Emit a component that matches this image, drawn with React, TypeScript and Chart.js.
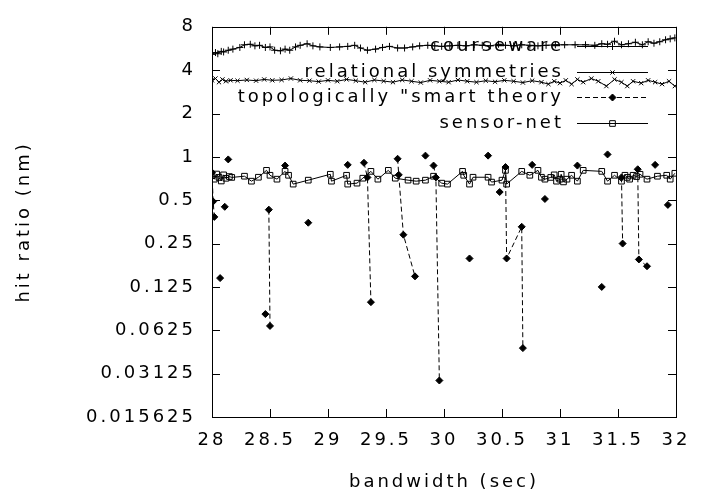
import React, { useEffect, useRef } from "react";
import { Chart, registerables } from "chart.js";
import { drawPoint } from "chart.js/helpers";

Chart.register(...registerables);

// ---------------- data ----------------
const xTickValues = [28, 28.5, 29, 29.5, 30, 30.5, 31, 31.5, 32];
const yTickValues = [0.015625, 0.03125, 0.0625, 0.125, 0.25, 0.5, 1, 2, 4, 8];
const yTickLabels = ["0.015625", "0.03125", "0.0625", "0.125", "0.25", "0.5", "1", "2", "4", "8"];

const seriesLabels = ["courseware", "relational symmetries", "topologically \"smart theory", "sensor-net"];

const coursewareX = [28.0, 28.03, 28.05, 28.08, 28.1, 28.14, 28.18, 28.24, 28.28, 28.33, 28.37, 28.41, 28.46, 28.5, 28.54, 28.59, 28.63, 28.67, 28.72, 28.76, 28.82, 28.87, 28.93, 29.02, 29.1, 29.17, 29.23, 29.28, 29.34, 29.41, 29.47, 29.53, 29.6, 29.66, 29.73, 29.79, 29.86, 29.92, 29.98, 30.05, 30.12, 30.19, 30.26, 30.33, 30.4, 30.47, 30.53, 30.6, 30.67, 30.74, 30.81, 30.88, 30.96, 31.04, 31.13, 31.22, 31.3, 31.36, 31.41, 31.47, 31.53, 31.59, 31.65, 31.71, 31.76, 31.81, 31.86, 31.91, 31.95, 31.99];
const coursewareY = [5.15, 5.3, 5.2, 5.4, 5.35, 5.5, 5.6, 5.75, 6.0, 6.05, 5.9, 5.95, 5.75, 5.8, 5.5, 5.45, 5.6, 5.5, 5.8, 5.95, 6.1, 5.9, 5.8, 5.75, 5.8, 5.85, 5.95, 5.7, 5.5, 5.6, 5.75, 5.85, 5.7, 5.7, 5.8, 5.9, 5.95, 5.9, 5.85, 5.9, 5.95, 5.9, 6.0, 5.95, 5.9, 6.05, 5.95, 5.9, 6.0, 5.95, 5.9, 5.95, 6.0, 6.0, 6.0, 6.0, 5.95, 6.1, 6.05, 6.35, 6.0, 6.1, 6.25, 6.0, 6.3, 6.15, 6.3, 6.5, 6.6, 6.7];

const relationalX = [28.0, 28.03, 28.06, 28.09, 28.12, 28.16, 28.22, 28.3, 28.38, 28.45, 28.52, 28.6, 28.68, 28.76, 28.84, 28.92, 29.0, 29.08, 29.16, 29.24, 29.32, 29.4, 29.48, 29.56, 29.64, 29.72, 29.8, 29.88, 29.96, 30.04, 30.12, 30.2, 30.28, 30.36, 30.44, 30.52, 30.6, 30.68, 30.76, 30.84, 30.9, 30.95, 31.0, 31.05, 31.1, 31.15, 31.2, 31.27, 31.33, 31.4, 31.47, 31.53, 31.58, 31.63, 31.7, 31.76, 31.82, 31.88, 31.94, 31.99];
const relationalY = [3.4, 3.5, 3.3, 3.45, 3.35, 3.4, 3.38, 3.42, 3.38, 3.45, 3.4, 3.42, 3.5, 3.4, 3.38, 3.33, 3.4, 3.35, 3.45, 3.38, 3.3, 3.42, 3.36, 3.3, 3.42, 3.35, 3.28, 3.4, 3.35, 3.3, 3.42, 3.35, 3.3, 3.38, 3.32, 3.4, 3.35, 3.28, 3.38, 3.3, 3.2, 3.35, 3.25, 3.4, 3.2, 3.45, 3.3, 3.5, 3.35, 3.1, 3.45, 3.3, 3.1, 3.35, 3.25, 3.4, 3.3, 3.2, 3.35, 3.1];

// null entries break the dashed line into separate pieces
const topologicalX = [28.0, 28.01, 28.02, null, 28.07, null, 28.11, null, 28.14, null, 28.46, null, 28.49, 28.5, null, 28.63, null, 28.83, null, 29.17, null, 29.31, 29.34, 29.37, null, 29.6, 29.61, 29.65, 29.75, null, 29.84, null, 29.91, 29.93, 29.96, null, 30.22, null, 30.38, null, 30.48, null, 30.53, 30.54, 30.67, 30.68, null, 30.76, null, 30.87, null, 31.15, null, 31.36, null, 31.41, null, 31.53, 31.54, null, 31.67, 31.68, 31.75, null, 31.82, null, 31.93];
const topologicalY = [0.78, 0.49, 0.383, null, 0.144, null, 0.45, null, 0.96, null, 0.081, null, 0.43, 0.067, null, 0.87, null, 0.349, null, 0.88, null, 0.91, 0.72, 0.098, null, 0.97, 0.75, 0.288, 0.148, null, 1.02, null, 0.87, 0.72, 0.028, null, 0.197, null, 1.02, null, 0.57, null, 0.85, 0.197, 0.327, 0.047, null, 0.88, null, 0.51, null, 0.87, null, 0.125, null, 1.04, null, 0.72, 0.25, null, 0.82, 0.194, 0.174, null, 0.88, null, 0.464];

const sensorX = [28.0, 28.02, 28.04, 28.06, 28.08, 28.1, 28.12, 28.15, 28.17, 28.28, 28.34, 28.4, 28.47, 28.5, 28.56, 28.63, 28.66, 28.7, 28.83, 29.02, 29.03, 29.16, 29.17, 29.25, 29.3, 29.37, 29.43, 29.52, 29.58, 29.69, 29.76, 29.84, 29.91, 29.98, 30.03, 30.16, 30.17, 30.22, 30.25, 30.38, 30.41, 30.5, 30.53, 30.54, 30.67, 30.74, 30.81, 30.84, 30.87, 30.92, 30.95, 30.97, 31.0, 31.01, 31.03, 31.06, 31.1, 31.15, 31.2, 31.36, 31.41, 31.47, 31.53, 31.56, 31.58, 31.6, 31.63, 31.66, 31.69, 31.75, 31.84, 31.92, 31.95, 31.99];
const sensorY = [0.74, 0.70, 0.76, 0.72, 0.68, 0.75, 0.71, 0.73, 0.72, 0.734, 0.678, 0.722, 0.806, 0.745, 0.70, 0.793, 0.745, 0.647, 0.689, 0.757, 0.678, 0.745, 0.647, 0.657, 0.711, 0.793, 0.70, 0.806, 0.711, 0.689, 0.678, 0.689, 0.734, 0.657, 0.647, 0.793, 0.745, 0.647, 0.722, 0.722, 0.668, 0.689, 0.806, 0.647, 0.793, 0.745, 0.806, 0.722, 0.70, 0.72, 0.75, 0.678, 0.70, 0.757, 0.67, 0.70, 0.745, 0.678, 0.806, 0.793, 0.678, 0.745, 0.678, 0.745, 0.72, 0.70, 0.745, 0.73, 0.757, 0.70, 0.734, 0.745, 0.70, 0.769];

// ---------------- helpers ----------------
const FONT = '"DejaVu Sans", "Liberation Sans", Arial, sans-serif';
const FONT_SIZE = 18;
const SPACING = "3px";

function pts(xs: (number | null)[], ys: (number | null)[]) {
  return xs.map((x, i) => ({ x: x as any, y: ys[i] as any }));
}

const gnuplotPlugin = {
  id: "gnuplotFrame",
  beforeUpdate(chart: any) {
    (chart.ctx as any).letterSpacing = SPACING;
  },
  beforeDraw(chart: any) {
    (chart.ctx as any).letterSpacing = SPACING;
  },
  afterDatasetsDraw(chart: any) {
    const { ctx, chartArea: a, scales } = chart;
    ctx.save();
    ctx.strokeStyle = "#000";
    ctx.lineWidth = 1;
    ctx.setLineDash([]);
    ctx.strokeRect(Math.round(a.left) + 0.5, Math.round(a.top) + 0.5, Math.round(a.right - a.left), Math.round(a.bottom - a.top));
    const tl = 8;
    ctx.beginPath();
    for (const v of xTickValues) {
      const px = Math.round(scales.x.getPixelForValue(v)) + 0.5;
      ctx.moveTo(px, a.bottom);
      ctx.lineTo(px, a.bottom - tl);
      ctx.moveTo(px, a.top);
      ctx.lineTo(px, a.top + tl);
    }
    for (const v of yTickValues) {
      const py = Math.round(scales.y.getPixelForValue(v)) + 0.5;
      ctx.moveTo(a.left, py);
      ctx.lineTo(a.left + tl, py);
      ctx.moveTo(a.right, py);
      ctx.lineTo(a.right - tl, py);
    }
    ctx.stroke();

    // key (legend) in gnuplot style
    const rowY = [46, 72, 97, 123];
    const textRight = 564;
    const s0 = 577;
    const s1 = 648;
    ctx.font = `${FONT_SIZE}px ${FONT}`;
    (ctx as any).letterSpacing = SPACING;
    ctx.fillStyle = "#000";
    ctx.textAlign = "right";
    ctx.textBaseline = "middle";
    chart.data.datasets.forEach((ds: any, i: number) => {
      const y = rowY[i];
      ctx.fillText(ds.label, textRight, y);
      ctx.save();
      ctx.strokeStyle = "#000";
      ctx.lineWidth = 1;
      ctx.setLineDash(ds.borderDash || []);
      ctx.beginPath();
      ctx.moveTo(s0, y + 0.5);
      ctx.lineTo(s1, y + 0.5);
      ctx.stroke();
      ctx.setLineDash([]);
      ctx.fillStyle = ds.pointBackgroundColor;
      ctx.strokeStyle = "#000";
      drawPoint(ctx, { pointStyle: ds.pointStyle, radius: ds.pointRadius, borderWidth: 1, rotation: 0 } as any, (s0 + s1) / 2, y + 0.5);
      ctx.restore();
    });
    ctx.restore();
  },
};

export default function App() {
  const ref = useRef<HTMLCanvasElement | null>(null);

  useEffect(() => {
    document.body.style.margin = "0";
    if (!ref.current) return;
    Chart.defaults.font.family = FONT;
    Chart.defaults.font.size = FONT_SIZE;
    Chart.defaults.color = "#000";

    const chart = new Chart(ref.current, {
      type: "scatter",
      data: {
        datasets: [
          {
            label: seriesLabels[0],
            data: pts(coursewareX, coursewareY),
            showLine: true,
            borderColor: "#000",
            borderWidth: 1,
            pointStyle: "cross",
            pointRadius: 3.5,
            pointBorderWidth: 1,
            pointBorderColor: "#000",
            pointBackgroundColor: "#000",
          },
          {
            label: seriesLabels[1],
            data: pts(relationalX, relationalY),
            showLine: true,
            borderColor: "#000",
            borderWidth: 1,
            pointStyle: "crossRot",
            pointRadius: 3,
            pointBorderWidth: 1,
            pointBorderColor: "#000",
            pointBackgroundColor: "#000",
          },
          {
            label: seriesLabels[2],
            data: pts(topologicalX, topologicalY),
            showLine: true,
            spanGaps: false,
            borderColor: "#000",
            borderWidth: 1,
            borderDash: [5, 3],
            pointStyle: "rectRot",
            pointRadius: 3.5,
            pointBorderWidth: 1,
            pointBorderColor: "#000",
            pointBackgroundColor: "#000",
          },
          {
            label: seriesLabels[3],
            data: pts(sensorX, sensorY),
            showLine: true,
            borderColor: "#000",
            borderWidth: 1,
            pointStyle: "rect",
            pointRadius: 4,
            pointBorderWidth: 1,
            pointBorderColor: "#000",
            pointBackgroundColor: "rgba(255,255,255,0)",
          },
        ],
      } as any,
      options: {
        animation: false,
        responsive: false,
        devicePixelRatio: 1,
        layout: { padding: { top: 23, right: 34, left: 0, bottom: 0 } },
        plugins: {
          legend: { display: false },
          tooltip: { enabled: false },
        },
        scales: {
          x: {
            type: "linear",
            min: 28,
            max: 32,
            afterBuildTicks: (scale: any) => {
              scale.ticks = xTickValues.map((v) => ({ value: v }));
            },
            afterFit: (scale: any) => {
              scale.height = 80;
            },
            ticks: {
              padding: 13,
              autoSkip: false,
              maxRotation: 0,
              callback: (v: any) => String(v),
            },
            grid: { display: false, drawTicks: false },
            border: { display: false },
            title: {
              display: true,
              text: "bandwidth (sec)",
              padding: { top: 0, bottom: 4 },
            },
          },
          y: {
            type: "logarithmic",
            min: 0.015625,
            max: 8,
            afterBuildTicks: (scale: any) => {
              scale.ticks = yTickValues.map((v) => ({ value: v }));
            },
            afterFit: (scale: any) => {
              scale.width = 212;
            },
            ticks: {
              padding: 16,
              autoSkip: false,
              callback: (v: any) => {
                const i = yTickValues.indexOf(Number(v));
                return i >= 0 ? yTickLabels[i] : "";
              },
            },
            grid: { display: false, drawTicks: false },
            border: { display: false },
            title: {
              display: true,
              text: "hit ratio (nm)",
              padding: { top: 14, bottom: 0 },
            },
          },
        },
      } as any,
      plugins: [gnuplotPlugin as any],
    });
    return () => chart.destroy();
  }, []);

  return (
    <div style={{ width: 710, height: 497 }}>
      <canvas ref={ref} width={710} height={497} style={{ display: "block" }} />
    </div>
  );
}
